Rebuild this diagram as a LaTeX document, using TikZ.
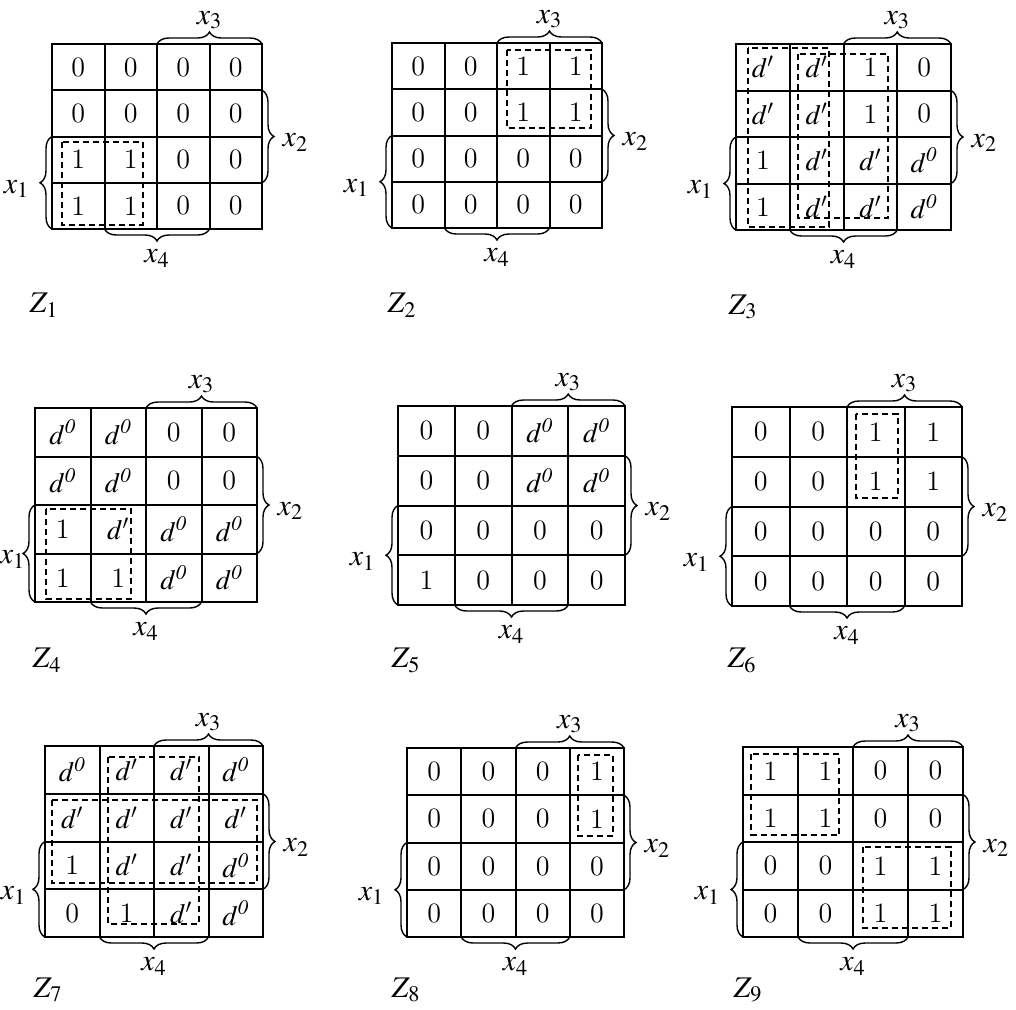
\documentclass[tikz,border=0pt]{standalone}
\usepackage{mathptmx}
\usetikzlibrary{decorations.pathreplacing}

\newcommand{\dprm}{$d'$}
\newcommand{\dnul}{$d^{\mathit{0}}$}

\tikzset{
  gridline/.style={line width=1pt},
  cell/.style={inner sep=0pt, font=\fontsize{14}{16}\selectfont},
  kbrace/.style={decorate, decoration={brace, amplitude=6pt}, line width=0.7pt},
  cover/.style={dash pattern=on 3pt off 2pt, line width=0.8pt},
  var/.style={inner sep=1pt, font=\fontsize{15}{17}\selectfont},
  leftvar/.style={left=10pt},
}

% one Karnaugh map: name, left, top, cell width, cell height, rows, dashed groups
\newcommand{\kmap}[7]{%
  \begin{scope}[shift={(#2,#3)}, xscale=#4, yscale=#5]
    \foreach \row [count=\rw] in {#6}
      \foreach \val [count=\col] in \row
        \node[cell] (#1-\rw-\col) at (\col-0.5,\rw-0.5) {\val};
    \draw[gridline] (0,0) rectangle (4,4);
    \foreach \i in {1,2,3} {
      \draw[gridline] (\i,0) -- (\i,4);
      \draw[gridline] (0,\i) -- (4,\i);
    }
    \draw[kbrace] (2,0) -- (4,0) node[var, midway, above=6pt] (#1-x3) {$x_3$};
    \draw[kbrace] (4,1) -- (4,3) node[var, midway, right=9pt, yshift=-3pt] (#1-x2) {$x_2$};
    \draw[kbrace] (0,4) -- (0,2) node[var, midway, leftvar, yshift=-3pt] (#1-x1) {$x_1$};
    \draw[kbrace] (3,4) -- (1,4) node[var, midway, below=9pt] (#1-x4) {$x_4$};
    #7
  \end{scope}}

\begin{document}
\begin{tikzpicture}[x=0.5pt, y=-0.5pt]
  \useasboundingbox (0,0) rectangle (1016,1009);

  % first row
  \kmap{m1}{52}{44}{52.5}{46.25}
    {{0,0,0,0},{0,0,0,0},{1,1,0,0},{1,1,0,0}}
    {\draw[cover] (0.19,2.12) rectangle (1.73,3.91);}
  \kmap{m2}{392}{43}{52.5}{46.25}
    {{0,0,1,1},{0,0,1,1},{0,0,0,0},{0,0,0,0}}
    {\draw[cover] (2.19,0.15) rectangle (3.79,1.84);}
  \kmap{m3}{736}{44}{53.75}{46.5}
    {{\dprm,\dprm,1,0},{\dprm,\dprm,1,0},{1,\dprm,\dprm,\dnul},{1,\dprm,\dprm,\dnul}}
    {\draw[cover] (0.22,0.09) rectangle (1.73,3.94);
     \draw[cover] (1.15,0.22) rectangle (2.83,3.74);}

  % second row
  \begin{scope}[leftvar/.style={left=3.5pt}]
  \kmap{m4}{35}{408}{55.5}{48.5}
    {{\dnul,\dnul,0,0},{\dnul,\dnul,0,0},{1,\dprm,\dnul,\dnul},{1,1,\dnul,\dnul}}
    {\draw[cover] (0.2,2.08) rectangle (1.73,3.94);}
  \end{scope}
  \kmap{m5}{398}{406}{56.75}{49.75}
    {{0,0,\dnul,\dnul},{0,0,\dnul,\dnul},{0,0,0,0},{1,0,0,0}}
    {}
  \kmap{m6}{732}{407}{57.5}{49.75}
    {{0,0,1,1},{0,0,1,1},{0,0,0,0},{0,0,0,0}}
    {\draw[cover] (2.16,0.14) rectangle (2.89,1.83);}

  % third row
  \begin{scope}[leftvar/.style={left=8pt}]
  \kmap{m7}{45}{746}{54.5}{47.75}
    {{\dnul,\dprm,\dprm,\dnul},{\dprm,\dprm,\dprm,\dprm},{1,\dprm,\dprm,\dnul},{0,1,\dprm,\dnul}}
    {\draw[cover] (1.16,0.23) rectangle (2.83,3.73);
     \draw[cover] (0.13,1.13) rectangle (3.89,2.87);}
  \end{scope}
  \kmap{m8}{407}{748}{54.25}{47.25}
    {{0,0,0,1},{0,0,0,1},{0,0,0,0},{0,0,0,0}}
    {\draw[cover] (3.15,0.15) rectangle (3.8,1.86);}
  \kmap{m9}{743}{747}{55}{47.5}
    {{1,1,0,0},{1,1,0,0},{0,0,1,1},{0,0,1,1}}
    {\draw[cover] (0.15,0.15) rectangle (1.75,1.85);
     \draw[cover] (2.18,2.1) rectangle (3.78,3.81);}

  \node[var] (z1) at (44,305) {$Z_1$};
  \node[var] (z2) at (402,305) {$Z_2$};
  \node[var] (z3) at (743,307) {$Z_3$};
  \node[var] (z4) at (47,660) {$Z_4$};
  \node[var] (z5) at (406,660) {$Z_5$};
  \node[var] (z6) at (742,660) {$Z_6$};
  \node[var] (z7) at (48,990) {$Z_7$};
  \node[var] (z8) at (406,990) {$Z_8$};
  \node[var] (z9) at (748,990) {$Z_9$};
\end{tikzpicture}
\end{document}
